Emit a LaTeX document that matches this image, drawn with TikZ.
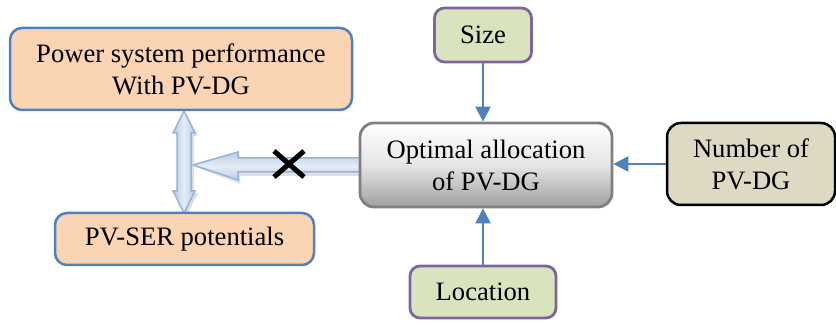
\documentclass[tikz,border=0pt]{standalone}
\usepackage{fontspec}
\setmainfont{Liberation Serif}
\usetikzlibrary{arrows.meta,calc,backgrounds}
\definecolor{peach}{HTML}{FBD4B4}
\definecolor{bblue}{HTML}{4F81BD}
\definecolor{green1}{HTML}{D7E4BD}
\definecolor{purp}{HTML}{8064A2}
\definecolor{tan1}{HTML}{DDD9C3}
\definecolor{gborder}{HTML}{7F7F7F}
\definecolor{lblue}{HTML}{B9CDE5}
\definecolor{lblue2}{HTML}{E4ECF6}
\definecolor{lbord}{HTML}{95B3D7}
\tikzset{
  txt/.style={font=\fontsize{26.6}{32}\selectfont, align=center, text=black, inner sep=0pt},
  peachbox/.style={txt, draw=bblue, line width=2.5pt, fill=peach, rounded corners=12pt},
  greenbox/.style={txt, draw=purp, line width=2.8pt, fill=green1, rounded corners=10pt},
  tanbox/.style={txt, draw=black, line width=2.5pt, fill=tan1, rounded corners=14pt},
  optbox/.style={txt, draw=gborder, line width=2.8pt, top color=white, bottom color=gray!75, middle color=gray!20, rounded corners=14pt},
  conn/.style={draw=bblue, line width=2.6pt, -{Triangle[length=15pt,width=15pt]}},
  blockarrow/.style={draw=lbord, line width=1.5pt, line join=miter}
}
\begin{document}
\begin{tikzpicture}[x=1pt,y=-1pt]
\useasboundingbox (0,0) rectangle (836,323);
\node[peachbox, minimum width=342pt, minimum height=82pt] (pow) at (181,69) {Power system performance\\With PV-DG};
\node[peachbox, minimum width=259pt, minimum height=52pt] (ser) at (184.5,239) {PV-SER potentials};
\node[optbox, minimum width=252pt, minimum height=84pt] (opt) at (486,165) {Optimal allocation\\of PV-DG};
\node[greenbox, minimum width=97pt, minimum height=54pt] (size) at (483,35) {Size};
\node[greenbox, minimum width=146pt, minimum height=52pt] (loc) at (483,292) {Location};
\node[tanbox, minimum width=168pt, minimum height=82pt] (num) at (751,164) {Number of\\PV-DG};
% small connectors
\draw[conn] (size.south) -- (size.south |- opt.north);
\draw[conn] (loc.north) -- (loc.north |- opt.south);
\draw[conn] (num.west) -- (num.west -| opt.east);
\begin{scope}[on background layer]
% horizontal block arrow (opt -> left)
\coordinate (htip) at (193,165);
\fill[gray!40, opacity=0.6] (364,161) -- (240,161) -- (240,155) -- (196,167) -- (240,184) -- (240,176) -- (364,176) -- cycle;
\path[blockarrow, top color=lblue, bottom color=lblue, middle color=lblue2] ($(opt.west |- 0,158)+(4,0)$) -- (238,158) -- (238,152) -- (htip) -- (238,180) -- (238,172) -- ($(opt.west |- 0,172)+(4,0)$) -- cycle;
% vertical double arrow
\coordinate (vtop) at (184,111);
\coordinate (vbot) at (184,213);
\fill[gray!45, opacity=0.6] (187,115) -- (198,136) -- (194,136) -- (194,193) -- (198,193) -- (187,215) -- (176,193) -- (180,193) -- (180,136) -- (176,136) -- cycle;
\path[blockarrow, left color=lblue, right color=lblue, middle color=lblue2] (vtop) -- (195,133) -- (191,133) -- (191,191) -- (195,191) -- (vbot) -- (173,191) -- (177,191) -- (177,133) -- (173,133) -- cycle;
\end{scope}
% X mark
\coordinate (xc) at (289,164);
\draw[black, line width=5pt] ($(xc)+(-15,-13)$) -- ($(xc)+(15,13)$);
\draw[black, line width=5pt] ($(xc)+(-15,13)$) -- ($(xc)+(15,-13)$);
\end{tikzpicture}
\end{document}
